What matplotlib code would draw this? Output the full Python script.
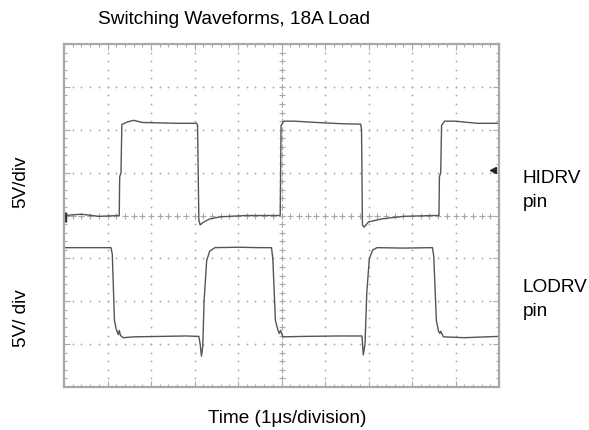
import numpy as np
import matplotlib.pyplot as plt

plt.rcParams['font.family'] = ['Liberation Sans', 'DejaVu Sans']

# scope traces (x in divisions, y in divisions from bottom)
HIDRV_T = [0.00, 0.40, 0.80, 1.27, 1.28, 1.31, 1.33, 1.45, 1.60, 1.80, 2.20, 2.60,
           3.05, 3.07, 3.10, 3.13, 3.20, 3.35, 3.60, 4.20, 4.97, 4.99, 5.05, 5.30,
           5.80, 6.40, 6.82, 6.84, 6.86, 6.90, 7.00, 7.30, 7.80, 8.50, 8.62, 8.63,
           8.66, 8.68, 8.75, 9.00, 9.50, 9.98]
HIDRV_V = [4.00, 4.03, 3.98, 4.00, 4.90, 5.00, 6.12, 6.18, 6.22, 6.17, 6.16, 6.15,
           6.15, 6.10, 3.90, 3.78, 3.84, 3.92, 3.97, 4.00, 4.00, 6.10, 6.20, 6.20,
           6.17, 6.14, 6.13, 6.00, 3.78, 3.73, 3.85, 3.92, 3.98, 4.00, 4.00, 4.90,
           5.00, 6.10, 6.20, 6.20, 6.15, 6.15]

LODRV_T = [0.02, 0.50, 1.08, 1.11, 1.16, 1.20, 1.25, 1.27, 1.30, 1.36, 1.60, 2.20,
           2.80, 3.10, 3.13, 3.16, 3.19, 3.22, 3.28, 3.35, 3.47, 4.00, 4.50, 4.77,
           4.80, 4.86, 4.92, 4.95, 4.98, 5.03, 5.50, 6.30, 6.85, 6.88, 6.92, 6.96,
           7.02, 7.10, 7.20, 7.80, 8.47, 8.50, 8.56, 8.61, 8.64, 8.66, 8.72, 9.20,
           9.98]
LODRV_V = [3.25, 3.25, 3.25, 3.10, 1.55, 1.35, 1.22, 1.32, 1.20, 1.15, 1.17, 1.18,
           1.19, 1.18, 1.00, 0.72, 0.95, 2.00, 2.95, 3.17, 3.25, 3.26, 3.25, 3.25,
           3.00, 1.55, 1.32, 1.25, 1.32, 1.17, 1.18, 1.19, 1.19, 0.75, 1.00, 2.20,
           3.00, 3.20, 3.25, 3.24, 3.25, 3.05, 1.55, 1.30, 1.25, 1.30, 1.17, 1.15,
           1.18]

TITLE = "Switching Waveforms, 18A Load"
XLABEL = "Time (1\u03bcs/division)"
YLABELS = ["5V/div", "5V/ div"]
PIN_LABELS = [("HIDRV", "pin"), ("LODRV", "pin")]

W, H = 589, 430
GRID = "#a8a8a8"
TRACE = "#555555"
FS = 13.7

fig = plt.figure(figsize=(W / 100, H / 100), dpi=100)
ax = fig.add_axes([64 / W, 1 - 387 / H, 435 / W, 343 / H])
ax.set_xlim(0, 10)
ax.set_ylim(0, 8)

# graticule: dotted division lines
steps_x = np.arange(0, 10.01, 0.2)
steps_y = np.arange(0, 8.01, 0.2)
for k in range(1, 10):
    if k != 5:
        ax.plot([k] * len(steps_y), steps_y, ls="none", marker="o", ms=1.3,
                mec="none", mfc=GRID)
for k in range(1, 8):
    if k != 4:
        ax.plot(steps_x, [k] * len(steps_x), ls="none", marker="o", ms=1.3,
                mec="none", mfc=GRID)

# centre axes with small tick crosses
ax.plot(steps_x, [4] * len(steps_x), ls="none", marker="+", ms=4.5, mew=0.8, color=GRID)
ax.plot([5] * len(steps_y), steps_y, ls="none", marker="+", ms=4.5, mew=0.8, color=GRID)

for s in ax.spines.values():
    s.set_color(GRID)
    s.set_linewidth(1.6)
ax.set_xticks(range(0, 11))
ax.set_yticks(range(0, 9))
ax.set_xticks(steps_x, minor=True)
ax.set_yticks(steps_y, minor=True)
ax.tick_params(which="both", direction="in", top=True, right=True,
               labelbottom=False, labelleft=False, color=GRID, width=0.8)
ax.tick_params(which="major", length=4.5)
ax.tick_params(which="minor", length=2.5)

# traces
ax.plot(HIDRV_T, HIDRV_V, color=TRACE, lw=1.0)
ax.plot(LODRV_T, LODRV_V, color=TRACE, lw=1.0)

# channel / trigger markers
ax.plot([0.03, 0.03], [3.85, 4.07], color="#333333", lw=2.5, solid_capstyle="butt")
ax.plot([9.86], [5.06], marker="<", ms=5, color="#222222", clip_on=False)

# text
fig.text(98 / W, 1 - 24 / H, TITLE, fontsize=FS, ha="left", va="baseline")
fig.text(287 / W, 1 - 423 / H, XLABEL, fontsize=FS, ha="center", va="baseline")
fig.text(21 / W, 1 - 182 / H, YLABELS[0], fontsize=FS, rotation=90,
         ha="center", va="center")
fig.text(21 / W, 1 - 318 / H, YLABELS[1], fontsize=FS, rotation=90,
         ha="center", va="center")
for (name, pin), base in zip(PIN_LABELS, [183, 292]):
    fig.text(523 / W, 1 - base / H, name, fontsize=FS, ha="left", va="baseline")
    fig.text(523 / W, 1 - (base + 24) / H, pin, fontsize=FS, ha="left", va="baseline")

fig.savefig("out.png", dpi=100)
